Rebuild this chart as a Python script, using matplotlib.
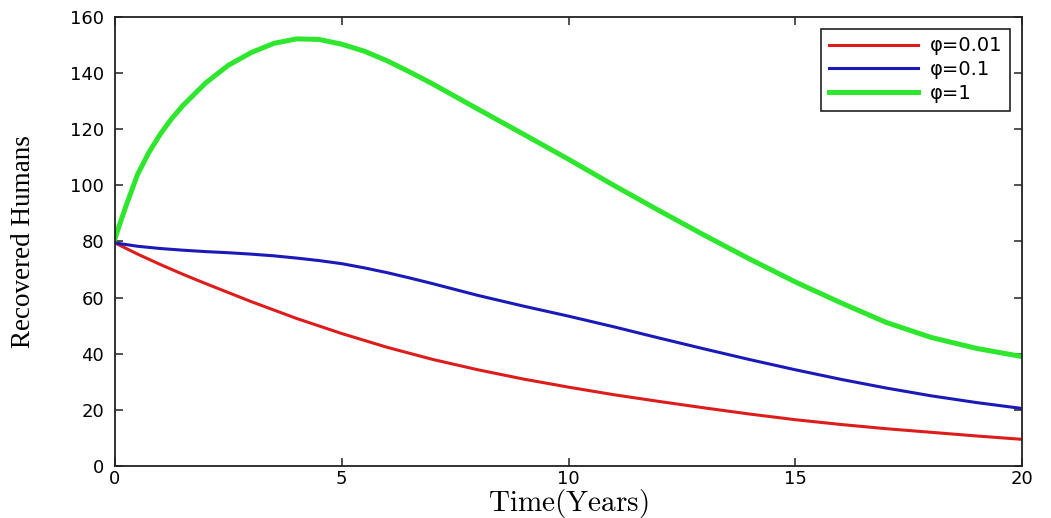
import matplotlib
matplotlib.use("Agg")
import matplotlib.pyplot as plt

# ---- data ----
t_green = [0, 0.1, 0.25, 0.5, 0.75, 1, 1.25, 1.5, 2, 2.5, 3, 3.5, 4, 4.5, 5, 5.5, 6, 6.5,
           7, 7.5, 8, 9, 10, 11, 12, 13, 14, 15, 16, 17, 18, 19, 20]
r_green = [81, 86, 93, 104, 111.8, 118.3, 123.8, 128.5, 136.5, 142.8, 147.3, 150.6, 152.2,
           152, 150.3, 147.8, 144.4, 140.4, 136.2, 131.7, 127.2, 118.3, 109.3, 100, 91,
           82.2, 73.7, 65.6, 58.2, 51.2, 45.8, 41.9, 39]

t_blue = [0, 0.5, 1, 1.5, 2, 2.5, 3, 3.5, 4, 4.5, 5, 5.5, 6, 6.5, 7, 7.5, 8, 9, 10, 11, 12,
          13, 14, 15, 16, 17, 18, 19, 20]
r_blue = [79.5, 78.3, 77.5, 76.9, 76.4, 76, 75.5, 74.9, 74.1, 73.2, 72.1, 70.6, 68.9, 67,
          65, 62.9, 60.8, 57, 53.4, 49.6, 45.6, 41.7, 37.9, 34.3, 30.9, 27.8, 25, 22.6, 20.5]

t_red = [0, 0.5, 1, 1.5, 2, 3, 4, 5, 6, 7, 8, 9, 10, 11, 12, 13, 14, 15, 16, 17, 18, 19, 20]
r_red = [79.5, 75.5, 71.8, 68.3, 65, 58.6, 52.6, 47.2, 42.3, 38, 34.3, 31, 28.1, 25.4, 23,
         20.7, 18.5, 16.5, 14.8, 13.3, 12, 10.7, 9.5]

labels = ["φ=0.01", "φ=0.1", "φ=1"]
x_ticks = [0, 5, 10, 15, 20]
y_ticks = [0, 20, 40, 60, 80, 100, 120, 140, 160]

plt.rcParams["mathtext.fontset"] = "cm"

fig = plt.figure(figsize=(10.51, 5.18), dpi=100)
ax = fig.add_axes([115 / 1051, 52 / 518, (1022 - 115) / 1051, (466 - 17) / 518])

ax.plot(t_red, r_red, color="#dd1c1c", lw=2.2, label=labels[0])
ax.plot(t_blue, r_blue, color="#1a1ab8", lw=2.2, label=labels[1])
ax.plot(t_green, r_green, color="#2ee62e", lw=3.6, label=labels[2])

ax.set_xlim(0, 20)
ax.set_ylim(0, 160)
ax.set_xticks(x_ticks)
ax.set_yticks(y_ticks)
ax.set_xticklabels([str(v) for v in x_ticks], fontfamily="DejaVu Sans", fontsize=13)
ax.set_yticklabels([str(v) for v in y_ticks], fontfamily="DejaVu Sans", fontsize=13)
ax.tick_params(direction="in", length=6, width=1.1, top=True, right=True, color="#222222")
ax.tick_params(axis="x", pad=3)
ax.tick_params(axis="y", pad=8)
for s in ax.spines.values():
    s.set_linewidth(1.3)
    s.set_color("#222222")

ax.set_xlabel(r"$\mathrm{Time(Years)}$", fontsize=21, labelpad=-1)
ax.set_ylabel("Recovered Humans", fontfamily="Liberation Serif", fontsize=19.5, labelpad=24)

leg = ax.legend(loc="upper right", handlelength=4.6, handletextpad=0.6,
                labelspacing=0.25, borderpad=0.4, borderaxespad=0.6, fancybox=False,
                framealpha=1, edgecolor="#222222", prop={"family": "DejaVu Sans", "size": 14})
leg.get_frame().set_linewidth(1.2)

fig.savefig("out.png", dpi=100)
